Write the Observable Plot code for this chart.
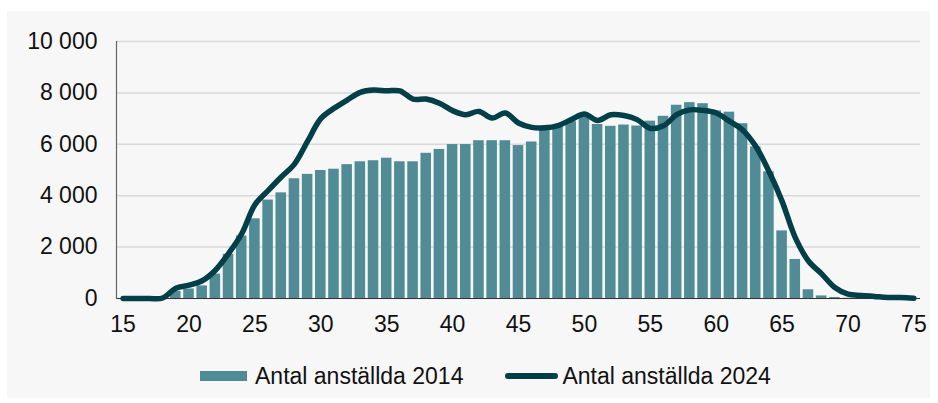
<!DOCTYPE html>
<html>
<head>
<meta charset="utf-8">
<script src="https://cdn.jsdelivr.net/npm/d3@7"></script>
<script src="https://cdn.jsdelivr.net/npm/@observablehq/plot@0.6"></script>
<style>
  html, body { margin: 0; padding: 0; background: #ffffff; }
  body { width: 938px; height: 403px; position: relative; overflow: hidden; font-family: "Liberation Sans", Arial, sans-serif; }
  #panel { position: absolute; left: 7px; top: 11px; width: 923px; height: 387px; background: #f7f7f7; }
  #chart { position: absolute; left: 0; top: 0; }
  #legend { position: absolute; left: 200px; top: 362px; height: 28px; display: flex; align-items: center; font-size: 23px; color: #111; white-space: nowrap; }
  .sw-bar { width: 47px; height: 10px; background: #508b96; margin-right: 8px; }
  .sw-line { width: 53px; height: 6px; border-radius: 3px; background: #033f48; margin-left: 42px; margin-right: 4px; }
</style>
</head>
<body>
<div id="panel"></div>
<div id="chart"></div>
<div id="legend"></div>
<script>
const ages = d3.range(15, 76);
const series2014Label = "Antal anställda 2014";
const series2024Label = "Antal anställda 2024";
const values2014 = [
  0, 0, 0, 0, 280, 370, 490, 950, 1720, 2430,
  3100, 3830, 4110, 4660, 4830, 4980, 5030, 5210, 5320, 5360,
  5460, 5320, 5320, 5650, 5800, 5990, 5990, 6140, 6140, 6140,
  5950, 6090, 6600, 6720, 6880, 7070, 6770, 6700, 6750, 6710,
  6900, 7090, 7520, 7620, 7580, 7300, 7250, 6800, 5900, 4930,
  2630, 1520, 340, 100, 40, 10, 0, 0, 0, 0, 0
];
const values2024 = [
  0, 0, 0, 20, 400, 520, 690, 1100, 1750, 2520,
  3650, 4200, 4730, 5230, 6120, 7000, 7400, 7720, 8020, 8110,
  8080, 8080, 7760, 7760, 7600, 7310, 7150, 7280, 7020, 7220,
  6830, 6660, 6640, 6730, 6960, 7180, 6930, 7150, 7120, 6960,
  6620, 6720, 7150, 7340, 7320, 7220, 6900, 6560, 5920, 4950,
  3780, 2370, 1460, 960, 430, 170, 120, 80, 40, 40, 10
];
const xTicks = [15, 20, 25, 30, 35, 40, 45, 50, 55, 60, 65, 70, 75];
const yTicks = [0, 2000, 4000, 6000, 8000, 10000];

const rows2014 = ages.map((a, i) => ({age: a, value: values2014[i]}));
const rows2024 = ages.map((a, i) => ({age: a, value: values2024[i]}));

const fmt = d => d3.format(",")(d).replace(/,/g, " ");

const chart = Plot.plot({
  width: 938,
  height: 345,
  marginLeft: 116,
  marginRight: 18,
  marginTop: 41,
  marginBottom: 47,
  style: {background: "transparent", fontFamily: "'Liberation Sans', Arial, sans-serif", fontSize: "23px", color: "#111"},
  x: {type: "band", domain: ages, paddingInner: 0.2, paddingOuter: 0.1, round: false, label: null},
  y: {domain: [0, 10000], label: null},
  marks: [
    Plot.gridY(yTicks, {stroke: "#d9d9d9", strokeOpacity: 1, strokeWidth: 1.5}),
    Plot.barY(rows2014, {x: "age", y: "value", fill: "#508b96"}),
    Plot.ruleY([0], {stroke: "#333", strokeWidth: 1.2}),
    Plot.frame({anchor: "left", stroke: "#666", strokeWidth: 1.2}),
    Plot.lineY(rows2024, {x: "age", y: "value", stroke: "#033f48", strokeWidth: 5.5, curve: "catmull-rom", strokeLinejoin: "round", strokeLinecap: "round"}),
    Plot.axisY(yTicks, {tickSize: 0, tickPadding: 19, tickFormat: fmt, fontSize: 23, fill: "#111", label: null}),
    Plot.axisX(xTicks, {tickSize: 0, tickPadding: 17, fontSize: 23, fill: "#111", label: null})
  ]
});
document.getElementById("chart").appendChild(chart);

const legend = document.getElementById("legend");
legend.innerHTML =
  `<div class="sw-bar"></div><span>${series2014Label}</span>` +
  `<div class="sw-line"></div><span>${series2024Label}</span>`;
</script>
</body>
</html>
